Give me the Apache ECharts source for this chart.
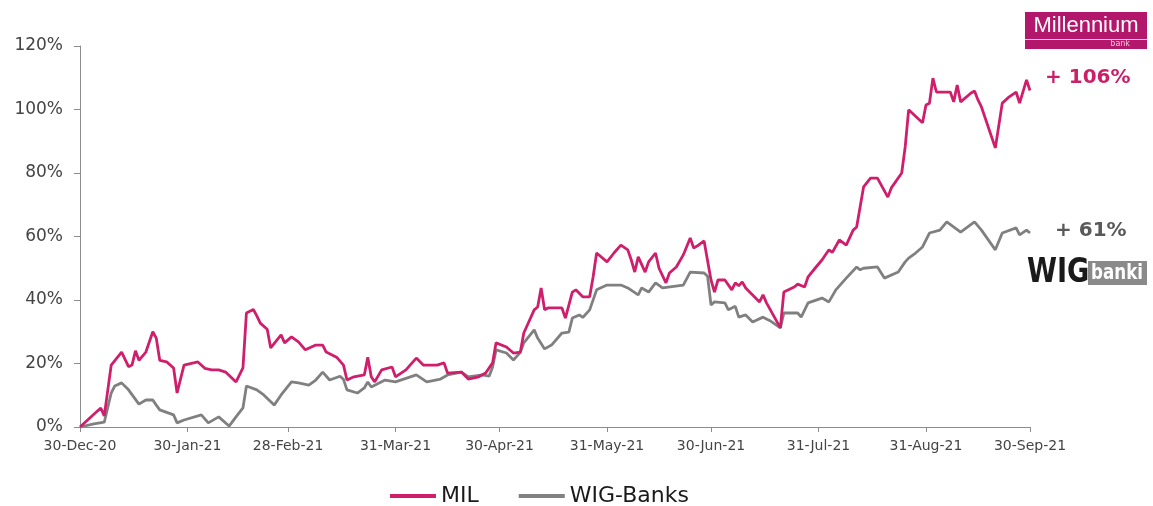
<!DOCTYPE html>
<html>
<head>
<meta charset="utf-8">
<script src="https://cdn.jsdelivr.net/npm/echarts@6/dist/echarts.min.js"></script>
<style>
html,body{margin:0;padding:0;background:#fff;}
#c{width:1153px;height:506px;}
</style>
</head>
<body>
<div id="c"></div>
<script>
// x values: days since 30-Dec-2020
const tickDays = [0, 31, 60, 91, 121, 152, 182, 213, 244, 274];
const tickLabels = ['30-Dec-20','30-Jan-21','28-Feb-21','31-Mar-21','30-Apr-21','31-May-21','30-Jun-21','31-Jul-21','31-Aug-21','30-Sep-21'];

const milDay = [0,4,6,7,9,12,14,15,16,17,19,21,22,23,25,27,28,30,34,36,38,40,42,45,47,48,50,51,52,54,55,58,59,61,63,65,68,70,71,74,76,77,79,82,83,84,85,87,90,91,94,97,99,103,105,106,110,112,115,117,119,120,123,125,127,128,131,132,133,134,135,139,140,142,143,145,147,148,149,152,154,156,158,159,160,161,163,164,166,167,169,170,172,174,176,177,178,180,182,183,184,186,188,189,190,191,192,194,196,197,198,202,203,206,207,209,210,212,214,216,217,219,221,223,224,226,228,230,233,234,237,238,239,243,244,245,246,247,251,252,253,254,257,258,259,260,264,266,268,270,271,273,274];
const milVal = [0,4,6,3.5,19.5,23.6,19,19.5,24,21,23.6,30,28,21,20.5,18.6,10.7,19.5,20.5,18.5,18,18,17.3,14.2,18.6,35.9,37,35,32.7,30.8,24.9,29,26.5,28.4,26.8,24.3,25.8,25.8,23.6,22,19.5,14.8,15.8,16.4,22,15.8,14.2,18,18.9,15.8,18,21.7,19.5,19.5,20.2,17,17.3,15.1,15.8,17,20.2,26.5,25.2,23.3,23.6,29.6,36.9,37.8,43.8,36.9,37.5,37.5,34.3,42.5,43.2,41,41,47.3,54.8,52,54.8,57.3,55.8,52.6,48.8,53.6,48.8,52,54.8,50,45.4,48.5,50.4,54.2,59.5,56.4,57,58.6,46.3,42.5,46.3,46.3,43.2,45.4,44.5,45.7,43.8,41.6,39.4,41.6,39.1,31.2,42.5,44.1,45,44.1,47.3,50,52.6,55.8,55,58.9,57.3,62,63,75.6,78.4,78.4,72.4,75.3,80,88.2,99.9,95.8,101.4,102,109.9,105.5,105.5,102.4,107.7,102.4,105.2,105.8,103,100.8,87.9,102,104,105.5,102,109.3,106];

const wigDay = [0,4,7,9,10,12,14,17,19,21,22,23,27,28,30,35,37,40,43,45,47,48,51,53,56,58,61,63,66,68,70,72,75,76,77,80,82,83,84,88,91,97,100,104,106,110,112,116,118,119,120,123,125,127,128,131,132,134,136,139,141,142,144,145,147,149,152,156,158,161,162,164,166,168,174,176,180,181,182,183,186,187,189,190,192,194,197,199,202,203,207,208,210,214,216,218,221,224,225,226,230,232,236,238,239,241,243,245,248,250,254,258,260,264,266,270,271,273,274];
const wigVal = [0,1,1.5,10.7,12.9,13.9,11.7,7.2,8.5,8.5,6.9,5.4,3.8,1.3,2.2,3.8,1.3,3.2,0.3,3.2,6,12.9,11.7,10.1,6.9,10.1,14.2,13.9,13.2,14.8,17.3,14.8,16,15,11.7,10.7,12.3,14.2,12.6,14.8,14.2,16.4,14.2,15.1,16.4,17.3,15.8,16.4,16,18.9,24.3,23.3,21.1,23.5,26.5,30.6,28,24.6,25.8,29.6,29.9,34.3,35.3,34.5,36.9,43.2,44.7,44.7,43.8,41.6,43.8,42.5,45.4,43.8,44.7,48.8,48.5,47.5,38.4,39.4,39.1,36.9,38,34.6,35.3,33.1,34.6,33.5,31.2,35.9,35.9,34.6,39.1,40.6,39.4,43.2,46.9,50.4,49.5,50,50.4,46.9,48.8,52,53.2,54.8,56.7,61.1,62,64.6,61.4,64.6,62,55.8,61.1,62.7,60.5,62,61.1];

const seriesNames = ['MIL', 'WIG-Banks'];
const MIL_COLOR = '#cf1f6c';
const WIG_COLOR = '#808080';

const chart = echarts.init(document.getElementById('c'), null, {renderer: 'canvas'});
const axisGray = '#8c8c8c';
const labelColor = '#444444';

chart.setOption({
  animation: false,
  backgroundColor: '#ffffff',
  grid: {left: 80, right: 123, top: 46, bottom: 79, containLabel: false},
  xAxis: {
    type: 'value', min: 0, max: 274,
    axisLine: {show: true, lineStyle: {color: axisGray, width: 1}},
    axisTick: {show: true, customValues: tickDays, length: 5, lineStyle: {color: axisGray}},
    axisLabel: {
      customValues: tickDays, color: labelColor, fontSize: 14, fontFamily: 'DejaVu Sans', margin: 12,
      formatter: function (v) { const i = tickDays.indexOf(Math.round(v)); return i >= 0 ? tickLabels[i] : ''; }
    },
    splitLine: {show: false}
  },
  yAxis: {
    type: 'value', min: 0, max: 120, interval: 20,
    axisLine: {show: true, lineStyle: {color: axisGray, width: 1}},
    axisTick: {show: true, length: 6, lineStyle: {color: axisGray}},
    axisLabel: {formatter: '{value}%', color: labelColor, fontSize: 17, fontFamily: 'DejaVu Sans', margin: 17},
    splitLine: {show: false}
  },
  legend: {
    left: 385, top: 480,
    itemWidth: 46, itemHeight: 4, itemGap: 40,
    icon: 'rect',
    textStyle: {fontSize: 22, color: '#1a1a1a', fontFamily: 'DejaVu Sans'},
    data: seriesNames
  },
  series: [
    {name: seriesNames[0], type: 'line', showSymbol: false, symbol: 'none',
     data: milDay.map((d, i) => [d, milVal[i]]),
     lineStyle: {color: MIL_COLOR, width: 2.8}, itemStyle: {color: MIL_COLOR}, z: 3},
    {name: seriesNames[1], type: 'line', showSymbol: false, symbol: 'none',
     data: wigDay.map((d, i) => [d, wigVal[i]]),
     lineStyle: {color: WIG_COLOR, width: 2.8}, itemStyle: {color: WIG_COLOR}, z: 2}
  ],
  graphic: [
    // Millennium logo
    {type: 'rect', shape: {x: 1025, y: 12, width: 122, height: 37}, style: {fill: '#b3176b'}},
    {type: 'rect', shape: {x: 1025, y: 39, width: 122, height: 1}, style: {fill: '#f3c6dc'}},
    {type: 'text', style: {x: 1086, y: 26, text: 'Millennium', fill: '#ffffff', font: '22px "Liberation Sans"', align: 'center', verticalAlign: 'middle'}},
    {type: 'text', style: {x: 1130, y: 44, text: 'bank', fill: '#f3c6dc', font: '8px "DejaVu Sans"', align: 'right', verticalAlign: 'middle'}},
    // annotations
    {type: 'text', style: {x: 1045, y: 78, text: '+ 106%', fill: '#cc1f6a', font: 'bold 20px "DejaVu Sans"', verticalAlign: 'middle'}},
    {type: 'text', style: {x: 1055, y: 231, text: '+ 61%', fill: '#595959', font: 'bold 20px "DejaVu Sans"', verticalAlign: 'middle'}},
    // WIG banki logo
    {type: 'text', x: 1027, y: 273, scaleX: 0.8, style: {x: 0, y: 0, text: 'WIG', fill: '#1a1a1a', font: 'bold 34px "DejaVu Sans"', verticalAlign: 'middle'}},
    {type: 'rect', shape: {x: 1088, y: 261, width: 59, height: 24}, style: {fill: '#8a8a8a'}},
    {type: 'text', x: 1091, y: 273, scaleX: 0.76, style: {x: 0, y: 0, text: 'banki', fill: '#ffffff', font: 'bold 22px "DejaVu Sans"', verticalAlign: 'middle'}}
  ]
});
</script>
</body>
</html>
